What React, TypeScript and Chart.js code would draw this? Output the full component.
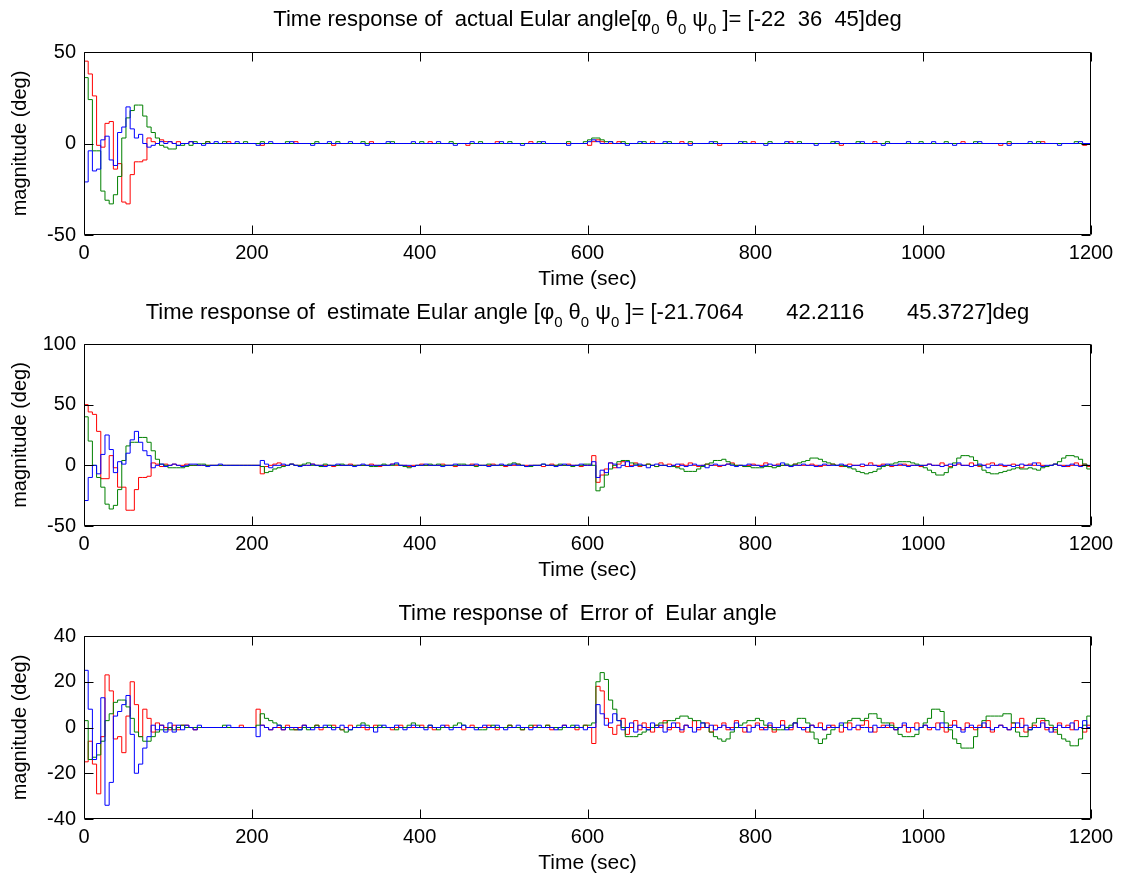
import React, { useEffect, useRef } from 'react';
import { Chart, registerables } from 'chart.js';

Chart.register(...registerables);

// ---------------- data ----------------
const SAMPLE_PERIOD = 5; // seconds between samples
const X_MIN = 0;
const X_MAX = 1200;
const X_STEP = 200;

// Panel 1: actual Euler angles
const P1_BLUE = [
  -21, -4, -15, -14, 2, 4, -9, -12, 6, 9, 20, 8, 3, 5, 0, -2, -1, 0, 1, 0,
  1, 0, -1, 0, 0, 1, 0, 0, -1, 0, 0, 1, 0, 0, 0, 0, 1, 0, 0, 0,
  0, -1, 0, 0, 1, 0, 0, 0, 0, 1, 0, 0, 0, 0, -1, 0, 0, 0, 1, 0,
  0, 0, 0, 1, 0, 0, 0, -1, 0, 0, 0, 0, 1, 0, 0, 0, 0, 0, 1, 0,
  0, 0, 0, 0, 1, 0, 0, 0, -1, 0, 0, 0, 1, 0, 0, 0, 0, 0, 0, 1,
  0, 0, 0, 0, -1, 0, 0, 0, 0, 1, 0, 0, 0, 0, 0, -1, 0, 0, 0, 0,
  1, 2, 1, 0, 0, 1, 0, 0, 0, -1, 0, 0, 1, 0, 0, 0, 0, 0, 1, 0,
  0, 0, 0, 0, -1, 0, 0, 0, 0, 1, 0, 0, 0, 0, 0, 0, 1, 0, 0, 0,
  0, 0, -1, 0, 0, 0, 0, 1, 0, 0, 0, 0, 0, 0, -1, 0, 0, 0, 0, 1,
  0, 0, 0, 0, 0, 1, 0, 0, 0, 0, -1, 0, 0, 0, 0, 0, 1, 0, 0, 0,
  0, 0, 1, 0, 0, 0, 0, -1, 0, 0, 0, 0, 0, 1, 0, 0, 0, 0, 0, 0,
  -1, 0, 0, 0, 0, 1, 0, 0, 0, 0, 0, 0, -1, 0, 0, 0, 0, 1, 0, 0,
  0,
];
const P1_GREEN = [
  36, 24, -4, -4, -26, -31, -33, -28, -18, 3, 14, 18, 21, 21, 15, 9, 6, 3, -1, -2,
  -3, -3, -1, -1, 0, -1, 1, 0, 0, 1, 0, 0, 0, 1, 0, 0, 0, 0, 1, 0,
  0, 0, 1, 0, 0, 0, 0, 0, 1, 0, 0, 0, 0, 0, 0, 1, 0, 0, 0, 0,
  1, 0, 0, 0, 0, 0, 1, 0, 0, 0, 0, 0, 0, 1, 0, 0, 0, 0, 0, 0,
  1, 0, 0, 0, 0, 0, 0, 1, 0, 0, 0, 0, 0, 0, 1, 0, 0, 0, 0, 0,
  0, 1, 0, 0, 0, 0, 0, 0, 1, 0, 0, 0, 0, 0, 0, 1, 0, 0, 0, 1,
  2, 3, 3, 2, 1, 1, 0, 0, 1, 0, 0, 0, 0, 1, 0, 0, 0, 0, 0, 1,
  0, 0, 0, 0, 1, 0, 0, 0, 0, 0, 1, 0, 0, 0, 0, 0, 0, 1, 0, 0,
  0, 0, 0, 1, 0, 0, 0, 0, 0, 0, 1, 0, 0, 0, 0, 0, 0, 0, 1, 0,
  0, 0, 0, 0, 1, 0, 0, 0, 0, 0, 0, 1, 0, 0, 0, 0, 0, 0, 0, 1,
  0, 0, 0, 0, 0, 1, 0, 0, 0, 0, 0, 0, 1, 0, 0, 0, 0, 0, 0, 0,
  1, 0, 0, 0, 0, 0, 0, 1, 0, 0, 0, 0, 0, 0, 0, 0, 1, 0, 0, 0,
  0,
];
const P1_RED = [
  45, 38, 26, -1, -2, 11, 12, -14, -11, -32, -33, -17, -10, -10, -9, 3, 1, 0, 2, 1,
  1, 0, 1, 0, 0, 1, 0, 0, 0, 1, 0, 0, 0, 0, 1, 0, 0, 0, 0, 0,
  0, 0, -1, 0, 0, 0, 0, 0, 0, 0, 1, 0, 0, 0, 0, 0, 0, 0, 0, -1,
  0, 0, 0, 0, 0, 0, 0, 0, 1, 0, 0, 0, 0, 0, 0, 0, 0, 0, 0, 0,
  0, 0, 1, 0, 0, 0, 0, 0, 0, 0, 0, -1, 0, 0, 0, 0, 0, 0, 1, 0,
  0, 0, 0, 0, 0, 0, 1, 0, 0, 0, 0, 0, 0, 0, 0, 0, 0, 0, 0, 0,
  -1, 1, 2, 1, 0, 0, 0, 1, 0, 0, 0, 0, 0, 0, 0, 1, 0, 0, 0, 0,
  0, 0, 1, 0, 0, 0, 0, 0, 0, 0, 0, -1, 0, 0, 0, 0, 0, 0, 0, 1,
  0, 0, 0, 0, 0, 0, 0, 0, 1, 0, 0, 0, 0, 0, 0, 0, 0, 0, 0, 0,
  -1, 0, 0, 0, 0, 0, 0, 0, 1, 0, 0, 0, 0, 0, 0, 0, 0, 0, 0, 0,
  0, 0, 0, 0, 0, 0, 0, 0, 0, 1, 0, 0, 0, 0, 0, 0, 0, 0, -1, 0,
  0, 0, 0, 0, 0, 0, 0, 0, 1, 0, 0, 0, 0, 0, 0, 0, 0, 0, -1, 0,
  0,
];

// Panel 2: estimated Euler angles
const P2_BLUE = [
  -29, -10, 0, -7, 9, 25, 13, -6, 3, 1, 10, 21, 28, 19, 12, 8, -2, 0, 1, -1,
  0, 1, 0, -1, 0, 1, 1, 0, 0, -1, 0, 0, 1, 0, 0, 0, 0, 0, 0, 0,
  0, 0, 4, 1, -2, 0, 0, 1, 0, 1, 0, -1, 0, 0, 1, 0, 0, -1, 0, 0,
  1, 0, 0, 0, -1, 0, 1, 0, 0, 0, 0, 0, 0, 1, 2, 0, 0, 0, -1, 0,
  0, 1, 0, 0, 0, -1, 0, 0, 1, 0, 0, 0, 0, 1, 0, 0, -1, 0, 0, 1,
  0, 0, 1, 0, 0, -1, 0, 0, 0, 1, 0, 0, -1, 0, 1, 0, 0, 0, 1, 0,
  0, 3, -10, -4, -6, 2, 1, -2, 0, 3, -1, 0, 1, 0, -2, 0, 1, 0, 0, -1,
  0, 1, 0, -1, 0, 1, 0, 0, -2, 0, 1, 0, 0, 1, 0, -1, 0, 0, 1, 0,
  0, -1, 0, 1, 0, 0, 2, 0, -1, 0, 0, 1, 0, 0, -1, 0, 1, 0, 0, 0,
  1, 0, -1, 0, 0, 1, 0, 0, 0, -1, 0, 1, 0, 0, 1, 0, -1, 0, 0, 0,
  0, 1, 0, 0, -1, 0, 1, 0, 2, 0, 0, -1, 0, 1, 0, -2, 0, 0, 1, 0,
  0, -1, 0, 1, 0, 0, 2, 0, -1, 0, 0, 1, 0, -1, 0, 1, 0, -1, 0, 0,
  -1,
];
const P2_GREEN = [
  40, 20, 0, -10, -18, -32, -36, -33, -20, 4, 16, 19, 19, 23, 23, 19, 12, 5, 1, 0,
  -2, -2, -2, -2, -1, 0, 0, 1, 1, 0, 0, 0, 0, 0, 0, 0, 0, 0, 0, 0,
  0, 0, -1, -6, -5, -3, -2, -1, 0, 1, 0, 0, 1, 2, 0, 0, -1, 1, 0, 0,
  0, 1, 0, 0, 0, 0, 0, 0, -1, -1, 0, 1, 0, 0, 1, 0, -1, -2, -1, 0,
  0, 0, 1, 0, 1, 0, 0, 0, 0, 1, 1, 0, 0, -1, 0, 0, 1, 0, 0, 0,
  0, 1, 2, 1, 0, -1, -1, 0, 0, 1, 0, 0, 0, 1, 0, 0, -1, 0, 0, 1,
  1, 0, -21, -18, -8, -3, 0, 3, 4, 4, 2, 1, 0, 0, 1, 0, -1, 0, 0, -1,
  -1, -2, -3, -5, -5, -5, -3, -1, 1, 2, 4, 4, 5, 3, 1, 0, 0, -1, -1, -2,
  -2, -2, -1, -1, -2, -1, 0, 1, 0, 1, 2, 3, 4, 6, 6, 5, 3, 2, 1, 0,
  0, -1, -2, -3, -5, -6, -7, -6, -5, -3, -1, 0, 1, 2, 3, 3, 3, 2, 1, 0,
  -2, -4, -6, -8, -8, -6, -2, 2, 6, 8, 8, 7, 4, 0, -4, -6, -7, -7, -6, -5,
  -4, -3, -2, -3, -3, -2, -3, -4, -2, -1, 0, 1, 3, 6, 8, 8, 7, 5, 1, -3,
  -5,
];
const P2_RED = [
  50, 44, 42, 28, -11, -11, 8, -2, -18, -18, -37, -37, -20, -10, -10, -9, 2, 1, -1, 1,
  0, 1, 0, 0, 1, 0, 0, 0, 0, 0, 0, 0, 0, 0, 0, 0, 0, 0, 0, 0,
  0, 0, -7, -1, 0, 1, 2, 0, 0, 1, 0, 0, 0, 0, 1, 0, 0, 0, 0, -1,
  0, 0, 0, 1, 0, 0, 0, 0, 1, 0, -1, 0, 0, 1, 0, 0, 0, -1, 0, 0,
  1, 0, 0, 0, 0, 1, 0, 0, -1, 0, 0, 0, 1, 0, 0, 0, 0, 1, 0, 0,
  -1, 0, 0, 1, 0, 0, 0, 0, 0, -1, 0, 1, 0, 0, 0, 1, 0, 0, -1, 0,
  0, 8, -14, -8, -3, 2, -2, 1, 3, -1, 0, 2, -1, 0, 1, 0, -1, 2, 0, 1,
  0, -1, 1, 0, 2, 0, -1, 0, 1, 0, 0, -1, 0, 1, 2, 0, 0, -1, 0, 1,
  0, 0, 2, -1, 0, 1, 0, 0, -1, 1, 0, 0, 0, 1, 0, -1, 0, 0, 1, 0,
  -1, 0, 1, 0, 0, -1, 0, 2, 0, 0, 1, 0, -1, 0, 0, 1, 0, 0, 0, -1,
  0, 1, 0, 0, 2, 0, -1, 0, 1, 0, 0, 2, 0, -1, 0, 1, 2, 0, 0, -1,
  0, 1, 0, -2, 0, 1, 0, 2, 0, -1, 0, 1, 0, 0, -1, 0, 2, 0, 1, -1,
  -1,
];

// Panel 3: error of Euler angles
const P3_BLUE = [
  25, 8, -14, -7, 13, -34, -24, 5, 7, 10, 14, -3, -20, -16, -9, -4, 1, -1, 1, -2,
  2, -2, 1, -1, 1, 0, -1, 1, 0, 0, 0, 0, 0, 0, 1, 0, 0, 0, 0, 0,
  0, -4, 1, 0, -1, 0, 1, -1, 0, 0, 0, -1, 1, 0, -1, 0, 0, 1, 0, -1,
  0, 1, 0, -1, 0, 0, 1, 0, 0, -2, 0, 1, 0, 0, 1, 0, -1, 0, 1, 0,
  0, -1, 1, 0, 0, 1, 0, -1, 0, 0, 1, 0, 0, -1, 0, 1, 0, 0, 1, 0,
  -1, 0, 0, 1, 0, 0, -1, 0, 1, 0, 0, 0, -1, 0, 1, 0, 0, 1, 0, -1,
  0, 0, 10, 6, 1, 2, 6, 3, -1, 0, 2, -2, 1, 0, -1, 2, 0, 1, -2, 0,
  2, 0, -1, 1, 0, -2, 0, 2, 0, 1, -1, 0, 1, 0, -1, 2, 0, 0, -2, 0,
  1, 0, -1, 2, 0, 0, 1, -1, 0, 2, 0, -1, 0, 1, 0, 0, -1, 1, 0, 0,
  2, 0, -1, 0, 1, 0, 0, -2, 1, 0, 0, 1, 0, -1, 0, 2, 0, 0, -1, 0,
  1, 0, 0, -1, 2, 0, 0, 1, 0, -2, 0, 1, 0, 0, 2, 0, -1, 0, 1, 0,
  -1, 0, 2, 0, 1, -1, 0, 0, 2, 0, -2, 0, 1, 0, 0, 2, -1, 0, 3, 0,
  -1,
];
const P3_GREEN = [
  3, -14, -13, -12, -6, 3, 6, 11, 12, 12, 9, 4, -2, -4, -6, -6, -4, -2, -1, -1,
  0, -1, 0, 1, 0, 0, 0, 0, 0, 0, 0, 0, 0, 1, 0, 0, 0, 0, 0, 0,
  0, 1, 6, 4, 3, 2, 1, 0, 0, -1, -1, -1, 0, -1, 0, 1, 0, 0, 1, 0,
  0, -1, -2, -1, 0, 1, 2, 1, 0, 0, 1, 0, 0, 0, -1, 0, 0, 1, 2, 1,
  0, 0, 1, 0, -1, 0, 0, 0, 1, 2, 1, 0, 0, 0, -1, -1, 0, 1, 0, 0,
  0, 1, 0, 0, -1, 0, 1, 0, 0, 0, 1, 0, 0, -1, 0, 0, 1, 0, 0, 1,
  1, 2, 20, 24, 21, 12, 8, 3, 0, -4, -4, -4, -3, -2, -1, 0, 1, 2, 2, 3,
  3, 4, 5, 5, 4, 3, 3, 2, 0, -2, -4, -5, -6, -5, -2, 0, 1, 2, 3, 3,
  4, 3, 1, 0, -1, -1, -1, 0, 1, 2, 4, 4, 2, -2, -5, -7, -5, -3, -1, 0,
  1, 2, 3, 4, 4, 3, 4, 6, 6, 4, 2, 2, 1, 0, -3, -4, -4, -4, -3, 0,
  2, 4, 8, 8, 7, 2, -1, -5, -7, -9, -9, -9, -4, 0, 3, 5, 5, 5, 5, 6,
  6, 2, -2, -4, -4, -1, 2, 4, 4, 3, 1, -1, -3, -5, -6, -8, -8, -5, 1, 5,
  6,
];
const P3_RED = [
  -15, -6, -16, -29, -4, 23, 16, -5, -4, -11, 5, 20, 10, -4, 8, 4, -2, 2, 1, 0,
  -1, 1, -1, 1, 1, 0, -1, 0, 0, 0, 0, 0, 0, 0, 0, 0, 0, 1, 0, 0,
  0, 8, 1, 0, -1, 0, 0, -1, 1, 0, -1, 0, 1, 0, 0, 1, -1, 0, 0, 1,
  0, -1, 0, 1, 0, 0, 0, -1, 0, 1, 0, 0, 0, -1, 0, 1, 0, 0, 0, 0,
  1, 0, 0, -1, 0, 0, 1, 0, 0, 0, -1, 0, 1, 0, 0, 0, 1, 0, -1, 0,
  0, 1, 0, 0, -1, 0, 0, 1, 0, 0, 1, -1, 0, 0, 1, 0, 0, -1, 0, 1,
  0, -7, 18, 16, 4, 0, -3, 1, 4, -3, 0, 3, -1, 2, 0, -2, 1, 0, 3, -1,
  0, 2, -2, 1, 0, 3, -1, 0, 2, -2, 1, 0, 2, -1, 0, 3, 0, -2, 1, 0,
  2, -1, 0, 1, -2, 0, 3, 0, -1, 2, 0, 0, -2, 1, 0, 2, -1, 0, 1, 0,
  -2, 0, 2, 0, -1, 1, 3, 0, -2, 0, 1, 0, 2, -1, 0, 1, -2, 0, 2, 0,
  1, -1, 0, 2, 0, -2, 1, 3, 0, -1, 2, 0, -1, 1, 0, 3, -2, 0, 1, 0,
  -1, 2, 0, 4, -2, 0, 1, 0, 3, -1, 0, -2, 2, 0, 1, -1, 3, 0, -2, 1,
  1,
];

type Seg = { text: string; sub?: boolean };

const TITLE_1: Seg[] = [
  { text: 'Time response of  actual Eular angle[\u03C6' },
  { text: '0', sub: true },
  { text: ' \u03B8' },
  { text: '0', sub: true },
  { text: ' \u03C8' },
  { text: '0', sub: true },
  { text: ' ]= [-22  36  45]deg' },
];
const TITLE_2: Seg[] = [
  { text: 'Time response of  estimate Eular angle [\u03C6' },
  { text: '0', sub: true },
  { text: ' \u03B8' },
  { text: '0', sub: true },
  { text: ' \u03C8' },
  { text: '0', sub: true },
  { text: ' ]= [-21.7064       42.2116       45.3727]deg' },
];
const TITLE_3: Seg[] = [{ text: 'Time response of  Error of  Eular angle' }];

const X_LABEL = 'Time (sec)';
const Y_LABEL = 'magnitude (deg)';

// ---------------- styling ----------------
const FONT = '"Liberation Sans", Arial, Helvetica, sans-serif';
const TICK_SIZE = 20;
const X_LABEL_SIZE = 21;
const Y_LABEL_SIZE = 20;
const TITLE_SIZE = 22;
const SUB_SIZE = 15;
const SUB_DROP = 8;
const COLORS = { blue: '#0000ff', green: '#008000', red: '#ff0000' };
const W = 1123;

type Panel = {
  top: number;
  height: number;
  plotTop: number;
  padBottom: number;
  titleBaseline: number;
  title: Seg[];
  yMin: number;
  yMax: number;
  yStep: number;
  blue: number[];
  green: number[];
  red: number[];
};

const PANELS: Panel[] = [
  { top: 0, height: 295, plotTop: 52, padBottom: 0, titleBaseline: 26, title: TITLE_1, yMin: -50, yMax: 50, yStep: 50, blue: P1_BLUE, green: P1_GREEN, red: P1_RED },
  { top: 295, height: 292, plotTop: 49, padBottom: 1, titleBaseline: 24, title: TITLE_2, yMin: -50, yMax: 100, yStep: 50, blue: P2_BLUE, green: P2_GREEN, red: P2_RED },
  { top: 587, height: 294, plotTop: 49, padBottom: 2, titleBaseline: 33, title: TITLE_3, yMin: -40, yMax: 40, yStep: 20, blue: P3_BLUE, green: P3_GREEN, red: P3_RED },
];

const toPoints = (arr: number[]) => arr.map((y, i) => ({ x: i * SAMPLE_PERIOD, y }));

const TICK_LEN = 9;

const framePlugin = {
  id: 'matlabFrame',
  afterDatasetsDraw(chart: any) {
    const { ctx, chartArea: a, scales } = chart;
    ctx.save();
    ctx.strokeStyle = '#000';
    ctx.lineWidth = 1;
    const l = Math.round(a.left) + 0.5;
    const r = Math.round(a.right) - 0.5;
    const t = Math.round(a.top) + 0.5;
    const b = Math.round(a.bottom) - 0.5;
    ctx.beginPath();
    ctx.rect(l, t, r - l, b - t);
    scales.x.ticks.forEach((tk: any) => {
      const px = Math.round(scales.x.getPixelForValue(tk.value)) + 0.5;
      ctx.moveTo(px, b);
      ctx.lineTo(px, b - TICK_LEN);
      ctx.moveTo(px, t);
      ctx.lineTo(px, t + TICK_LEN);
    });
    scales.y.ticks.forEach((tk: any) => {
      const py = Math.round(scales.y.getPixelForValue(tk.value)) + 0.5;
      ctx.moveTo(l, py);
      ctx.lineTo(l + TICK_LEN, py);
      ctx.moveTo(r, py);
      ctx.lineTo(r - TICK_LEN, py);
    });
    ctx.stroke();
    ctx.restore();
  },
};

const makeTitlePlugin = (segs: Seg[], baseline: number) => ({
  id: 'segTitle',
  afterDraw(chart: any) {
    const { ctx, chartArea } = chart;
    ctx.save();
    const mainFont = `${TITLE_SIZE}px ${FONT}`;
    const subFont = `${SUB_SIZE}px ${FONT}`;
    const widths = segs.map((s) => {
      ctx.font = s.sub ? subFont : mainFont;
      return ctx.measureText(s.text).width;
    });
    const total = widths.reduce((p, c) => p + c, 0);
    let x = (chartArea.left + chartArea.right) / 2 - total / 2;
    ctx.fillStyle = '#000';
    ctx.textAlign = 'left';
    ctx.textBaseline = 'alphabetic';
    segs.forEach((s, i) => {
      ctx.font = s.sub ? subFont : mainFont;
      ctx.fillText(s.text, x, baseline + (s.sub ? SUB_DROP : 0));
      x += widths[i];
    });
    ctx.restore();
  },
});

function PanelChart({ p }: { p: Panel }) {
  const ref = useRef<HTMLCanvasElement | null>(null);
  useEffect(() => {
    if (!ref.current) return;
    const ds = (data: number[], color: string) => ({
      data: toPoints(data),
      borderColor: color,
      backgroundColor: color,
      borderWidth: 1,
      pointRadius: 0,
      stepped: true as const,
      fill: false,
      tension: 0,
    });
    const chart = new Chart(ref.current, {
      type: 'line',
      data: {
        datasets: [ds(p.blue, COLORS.blue), ds(p.green, COLORS.green), ds(p.red, COLORS.red)],
      },
      options: {
        animation: false,
        responsive: false,
        maintainAspectRatio: false,
        devicePixelRatio: 1,
        events: [],
        layout: { padding: { top: p.plotTop, right: 32, bottom: p.padBottom, left: 0 } },
        plugins: {
          legend: { display: false },
          tooltip: { enabled: false },
          title: { display: false },
        },
        scales: {
          x: {
            type: 'linear',
            min: X_MIN,
            max: X_MAX,
            afterFit: (s: any) => {
              s.height = 60;
            },
            grid: { display: false, drawTicks: false },
            border: { display: false },
            ticks: {
              stepSize: X_STEP,
              autoSkip: false,
              maxRotation: 0,
              padding: 6,
              color: '#000',
              font: { family: FONT, size: TICK_SIZE },
              callback: (v: any) => String(v),
            },
            title: {
              display: true,
              text: X_LABEL,
              color: '#000',
              font: { family: FONT, size: X_LABEL_SIZE },
              padding: { top: 0, bottom: 3 },
            },
          },
          y: {
            type: 'linear',
            min: p.yMin,
            max: p.yMax,
            afterFit: (s: any) => {
              s.width = 84;
            },
            grid: { display: false, drawTicks: false },
            border: { display: false },
            ticks: {
              stepSize: p.yStep,
              autoSkip: false,
              padding: 8,
              color: '#000',
              font: { family: FONT, size: TICK_SIZE },
              callback: (v: any) => String(v),
            },
            title: {
              display: true,
              text: Y_LABEL,
              color: '#000',
              font: { family: FONT, size: Y_LABEL_SIZE },
              padding: { top: 8, bottom: 0 },
            },
          },
        },
      } as any,
      plugins: [framePlugin, makeTitlePlugin(p.title, p.titleBaseline)],
    });
    return () => chart.destroy();
  }, [p]);
  return (
    <canvas
      ref={ref}
      width={W}
      height={p.height}
      style={{ position: 'absolute', left: 0, top: p.top, width: W, height: p.height, display: 'block' }}
    />
  );
}

export default function App() {
  return (
    <div style={{ position: 'absolute', left: 0, top: 0, width: W, height: 881, background: '#fff', overflow: 'hidden' }}>
      {PANELS.map((p, i) => (
        <PanelChart key={i} p={p} />
      ))}
    </div>
  );
}
